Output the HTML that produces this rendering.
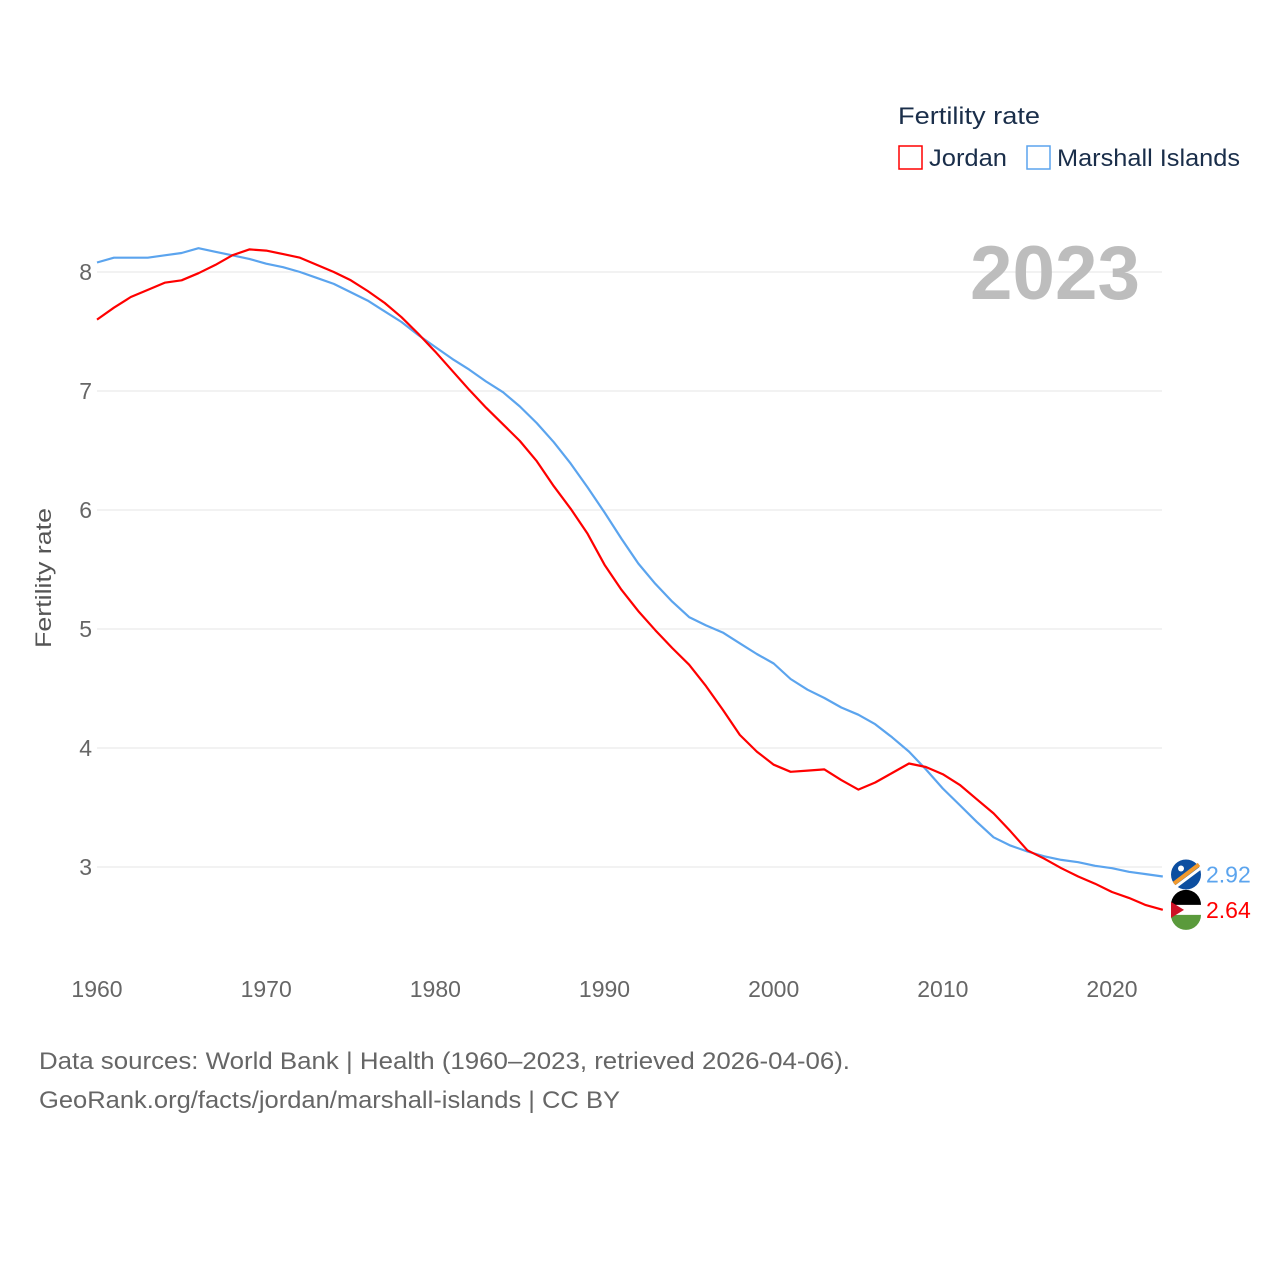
<!DOCTYPE html>
<html><head><meta charset="utf-8">
<style>
body{margin:0;background:#fff;font-family:"Liberation Sans",sans-serif;}
svg text{font-family:"Liberation Sans",sans-serif;}
</style></head>
<body>
<svg id="chart" width="1280" height="1280" viewBox="0 0 1280 1280" xmlns="http://www.w3.org/2000/svg">
<g id="grid"></g>
<g id="yticks"></g>
<g id="xticks"></g>
<text x="1140" y="299" text-anchor="end" font-size="76" font-weight="bold" fill="#bdbdbd" textLength="170" lengthAdjust="spacingAndGlyphs">2023</text>
<text transform="translate(51,578) rotate(-90)" text-anchor="middle" font-size="22" fill="#555" textLength="140" lengthAdjust="spacingAndGlyphs">Fertility rate</text>
<g id="series"></g>
<g>
<text x="898" y="124" font-size="24" fill="#1a2e4a" textLength="142" lengthAdjust="spacingAndGlyphs">Fertility rate</text>
<g><rect x="899" y="146" width="23" height="23" fill="none" stroke="#f00" stroke-width="1.5"/><text x="929" y="166" font-size="24" fill="#1a2e4a" textLength="78" lengthAdjust="spacingAndGlyphs">Jordan</text></g>
<g><rect x="1027" y="146" width="23" height="23" fill="none" stroke="#5ba4ee" stroke-width="1.5"/><text x="1057" y="166" font-size="24" fill="#1a2e4a" textLength="183" lengthAdjust="spacingAndGlyphs">Marshall Islands</text></g>
</g>
<g id="ends"></g>
<text x="39" y="1069" font-size="24" fill="#666" textLength="811" lengthAdjust="spacingAndGlyphs">Data sources: World Bank | Health (1960–2023, retrieved 2026-04-06).</text>
<text x="39" y="1108" font-size="24" fill="#666" textLength="581" lengthAdjust="spacingAndGlyphs">GeoRank.org/facts/jordan/marshall-islands | CC BY</text>
</svg>
<script>
const years=[];for(let y=1960;y<=2023;y++)years.push(y);
const jordan=[7.6,7.7,7.79,7.85,7.91,7.93,7.99,8.06,8.14,8.19,8.18,8.15,8.12,8.06,8.0,7.93,7.84,7.74,7.62,7.48,7.33,7.17,7.01,6.86,6.72,6.58,6.41,6.2,6.01,5.8,5.54,5.33,5.15,4.99,4.84,4.7,4.52,4.32,4.11,3.97,3.86,3.8,3.81,3.82,3.73,3.65,3.71,3.79,3.87,3.84,3.78,3.69,3.57,3.45,3.3,3.14,3.07,2.99,2.92,2.86,2.79,2.74,2.68,2.64];
const marshall=[8.08,8.12,8.12,8.12,8.14,8.16,8.2,8.17,8.14,8.11,8.07,8.04,8.0,7.95,7.9,7.83,7.76,7.67,7.58,7.47,7.37,7.27,7.18,7.08,6.99,6.87,6.73,6.57,6.39,6.19,5.98,5.76,5.55,5.38,5.23,5.1,5.03,4.97,4.88,4.79,4.71,4.58,4.49,4.42,4.34,4.28,4.2,4.09,3.97,3.82,3.66,3.52,3.38,3.25,3.18,3.13,3.09,3.06,3.04,3.01,2.99,2.96,2.94,2.92];
const yTicks=[3,4,5,6,7,8];
const xTicks=[1960,1970,1980,1990,2000,2010,2020];
const NS="http://www.w3.org/2000/svg";
const xs=y=>97+(y-1960)*(1112-97)/60;
const ys=v=>867-(v-3)*119;
function mk(t,a,p){const e=document.createElementNS(NS,t);for(const k in a)e.setAttribute(k,a[k]);p.appendChild(e);return e;}
const grid=document.getElementById('grid'),yt=document.getElementById('yticks'),xt=document.getElementById('xticks');
yTicks.forEach(v=>{
 const l=mk('line',{x1:97,x2:1162,y1:ys(v),y2:ys(v),stroke:'#e6e6e6','stroke-width':1},grid);
 
 
 const t=mk('text',{x:92,y:ys(v)+8,'text-anchor':'end','font-size':23,fill:'#666'},yt);
 t.textContent=v;
 
 
});
xTicks.forEach(v=>{
 const t=mk('text',{x:xs(v),y:997,'text-anchor':'middle','font-size':23,fill:'#666'},xt);
 t.textContent=v;
 
 
});
const ser=document.getElementById('series');
function line(data,color,name){
 const d=data.map((v,i)=>(i?'L':'M')+xs(years[i]).toFixed(1)+','+ys(v).toFixed(1)).join('');
 const p=mk('path',{d:d,fill:'none',stroke:color,'stroke-width':2.2,'stroke-linejoin':'round'},ser);
 
 
}
line(marshall,'#5ba4ee','line-marshall-islands');
line(jordan,'#f00','line-jordan');
const ends=document.getElementById('ends');
function endLabel(data,color,name,flag){
 const v=data[data.length-1];const cy=ys(v)+(flag==='mh'?-2:0);
 const g=mk('g',{},ends);
 
 
 if(flag==='mh'){
  mk('circle',{cx:1186,cy:cy,r:15,fill:'#0c4ea0'},g);
  mk('path',{d:`M1174,${cy+9} L1199,${cy-10}`,stroke:'#f39a2c','stroke-width':4},g);
  mk('path',{d:`M1176,${cy+12} L1200,${cy-6}`,stroke:'#fff','stroke-width':3},g);
  mk('circle',{cx:1181,cy:cy-6,r:3,fill:'#fff'},g);
 }else{
  mk('circle',{cx:1186,cy:cy,r:15,fill:'#fff'},g);
  mk('path',{d:`M1171,${cy-5} A15,15 0 0 1 1201,${cy-5} Z`,fill:'#000'},g);
  mk('path',{d:`M1171,${cy+5} A15,15 0 0 0 1201,${cy+5} Z`,fill:'#5a9a3c'},g);
  mk('path',{d:`M1171,${cy-8} L1184,${cy} L1171,${cy+8} Z`,fill:'#ce1126'},g);
 }
 const t=mk('text',{x:1206,y:cy+8,'font-size':23,fill:color},g);
 t.textContent=v.toFixed(2);
}
endLabel(marshall,'#5ba4ee','end-label-marshall-islands','mh');
endLabel(jordan,'#f00','end-label-jordan','jo');
</script>
</body></html>
